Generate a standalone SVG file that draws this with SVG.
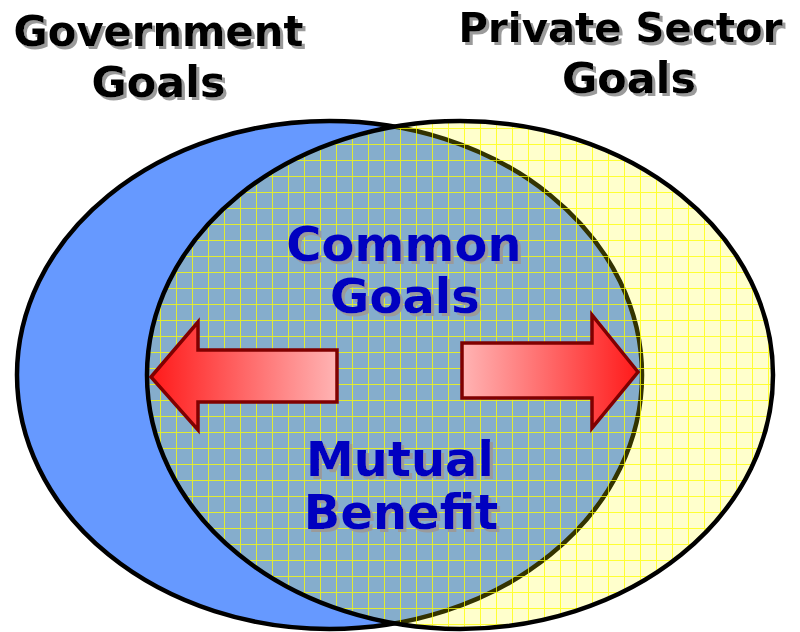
<svg xmlns="http://www.w3.org/2000/svg" width="800" height="632" viewBox="0 0 800 632">
<defs>
<pattern id="grid" x="0" y="0" width="16" height="16" patternUnits="userSpaceOnUse">
<rect x="0" y="0" width="16" height="16" fill="#FFFF00" fill-opacity="0.2"/>
<rect x="0" y="0" width="1" height="16" fill="#FFFF00" fill-opacity="0.75"/>
<rect x="1" y="0" width="15" height="1" fill="#FFFF00" fill-opacity="0.75"/>
</pattern>
<linearGradient id="gl" x1="0" y1="0" x2="1" y2="0">
<stop offset="0" stop-color="#FF1A1A"/>
<stop offset="1" stop-color="#FFB4B4"/>
</linearGradient>
<linearGradient id="gr" x1="0" y1="0" x2="1" y2="0">
<stop offset="0" stop-color="#FFB4B4"/>
<stop offset="1" stop-color="#FF1A1A"/>
</linearGradient>
<filter id="sh" x="-10%" y="-10%" width="130%" height="130%">
<feOffset in="SourceAlpha" dx="2.5" dy="2.5" result="o"/>
<feFlood flood-color="#9A9A9A"/>
<feComposite in2="o" operator="in" result="s"/>
<feMerge><feMergeNode in="s"/><feMergeNode in="SourceGraphic"/></feMerge>
</filter>
</defs>
<style>
.hd{font-family:"DejaVu Sans",Verdana,sans-serif;font-weight:bold;font-size:43px;fill:#000;text-anchor:middle;filter:url(#sh)}
.in{font-family:"DejaVu Sans",Verdana,sans-serif;font-weight:bold;font-size:48px;fill:#0000C0;text-anchor:middle;filter:url(#sh)}
.arr{stroke:#800000;stroke-width:3.5;stroke-linejoin:miter}
</style>
<g id="government">
<ellipse cx="329.5" cy="375" rx="312.5" ry="254" fill="#6699FF" stroke="#000" stroke-width="4.5"/>
</g>
<g id="private">
<ellipse cx="460" cy="375" rx="313" ry="254" fill="url(#grid)" stroke="#000" stroke-width="4.5"/>
</g>
<g id="labels">
<text class="hd" x="158.5" y="46" textLength="290" lengthAdjust="spacingAndGlyphs">Government</text>
<text class="hd" x="158.5" y="97">Goals</text>
<text class="hd" x="620.5" y="42" style="font-size:41px" textLength="324" lengthAdjust="spacingAndGlyphs">Private Sector</text>
<text class="hd" x="629" y="93">Goals</text>
</g>
<g id="common">
<text class="in" x="404" y="261">Common</text>
<text class="in" x="405" y="313">Goals</text>
<text class="in" x="400" y="476">Mutual</text>
<text class="in" x="401" y="529">Benefit</text>
</g>
<g id="connectors">
<path class="arr" fill="url(#gl)" d="M151,377 L198,322 L198,350 L337,350 L337,402 L198,402 L198,430 Z"/>
<path class="arr" fill="url(#gr)" d="M638,372 L592,315 L592,343 L462,343 L462,398 L592,398 L592,428 Z"/>
</g>
</svg>
